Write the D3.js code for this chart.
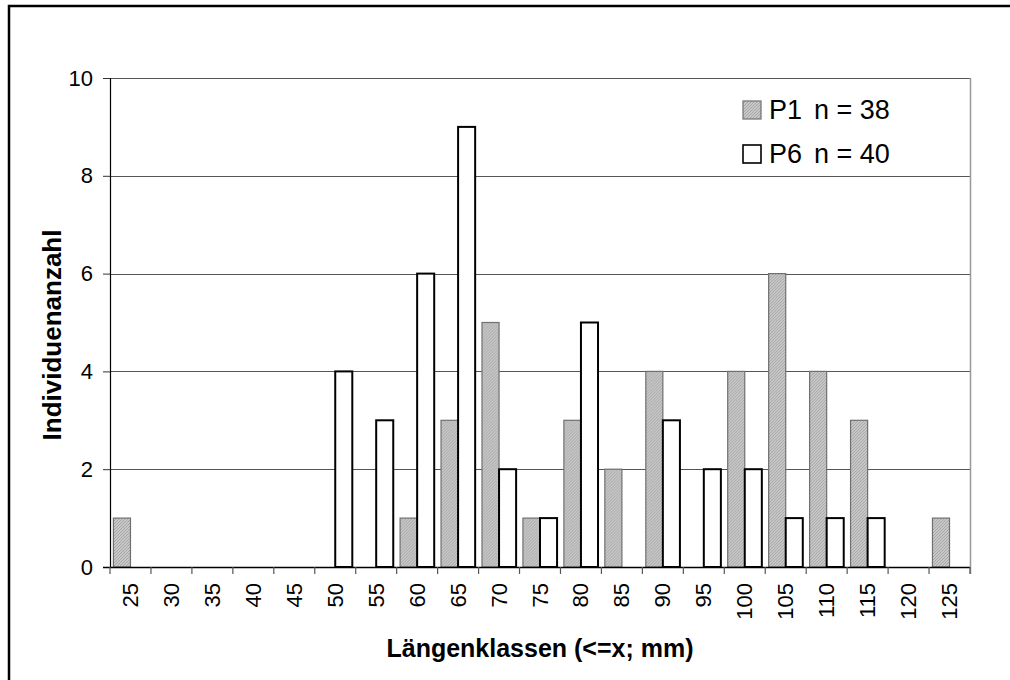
<!DOCTYPE html>
<html>
<head>
<meta charset="utf-8">
<script src="https://cdn.jsdelivr.net/npm/d3@7"></script>
<style>
  html, body { margin: 0; padding: 0; background: #fff; }
  svg { display: block; font-family: Arial, "Liberation Sans", sans-serif; }
</style>
</head>
<body>
<svg id="chart" width="1010" height="680"></svg>
<script>
// Length classes (upper bound, mm) and individual counts per site
const categories = ["25","30","35","40","45","50","55","60","65","70","75","80","85","90","95","100","105","110","115","120","125"];
const seriesKeys = ["P1", "P6"];
const seriesCounts = ["n = 38", "n = 40"];
const p1Values = [1,0,0,0,0,0,0,1,3,5,1,3,2,4,0,4,6,4,3,0,1];
const p6Values = [0,0,0,0,0,4,3,6,9,2,1,5,0,3,2,2,1,1,1,0,0];
const yTicks = [0, 2, 4, 6, 8, 10];

const svg = d3.select("#chart");
const W = 1010, H = 680;
const plot = { left: 110, right: 970, top: 78, bottom: 567 };

// hatched grey fill for the P1 bars
const defs = svg.append("defs");
const pat = defs.append("pattern")
  .attr("id", "hatch").attr("patternUnits", "userSpaceOnUse")
  .attr("width", 3).attr("height", 3);
pat.append("rect").attr("width", 3).attr("height", 3).attr("fill", "#c8c8c8");
pat.append("path").attr("d", "M0,3 L3,0 M-1,1 L1,-1 M2,4 L4,2")
  .attr("stroke", "#979797").attr("stroke-width", 0.7);

// outer frame
svg.append("rect").attr("x", 9).attr("y", 6).attr("width", W + 20).attr("height", H + 20)
  .attr("fill", "none").attr("stroke", "#000").attr("stroke-width", 2.5);

const x = d3.scaleBand().domain(categories).range([plot.left, plot.right]).padding(0);
const x1 = d3.scaleBand().domain(seriesKeys).range([0, x.bandwidth()]).paddingInner(0).paddingOuter(0.2);
const y = d3.scaleLinear().domain([0, 10]).range([plot.bottom, plot.top]);

// gridlines
svg.append("g").selectAll("line").data(yTicks.filter(d => d > 0)).join("line")
  .attr("x1", plot.left).attr("x2", plot.right)
  .attr("y1", d => Math.round(y(d)) + 0.5).attr("y2", d => Math.round(y(d)) + 0.5)
  .attr("stroke", "#555").attr("stroke-width", 1);

// right border of plot area
svg.append("line").attr("x1", plot.right + 0.5).attr("x2", plot.right + 0.5)
  .attr("y1", plot.top).attr("y2", plot.bottom + 7)
  .attr("stroke", "#999").attr("stroke-width", 1.5);

// bars
const rows = categories.map((c, i) => ({ cat: c, P1: p1Values[i], P6: p6Values[i] }));
const groups = svg.append("g").selectAll("g").data(rows).join("g")
  .attr("transform", d => `translate(${x(d.cat)},0)`);

groups.selectAll("rect")
  .data(d => seriesKeys.map(k => ({ key: k, value: d[k] })).filter(e => e.value > 0))
  .join("rect")
  .attr("x", d => x1(d.key))
  .attr("y", d => y(d.value))
  .attr("width", x1.bandwidth())
  .attr("height", d => y(0) - y(d.value))
  .attr("fill", d => d.key === "P1" ? "url(#hatch)" : "#fff")
  .attr("stroke", d => d.key === "P1" ? "#707070" : "#000")
  .attr("stroke-width", d => d.key === "P1" ? 1.2 : 2);

// y axis
const yAxis = svg.append("g").attr("transform", `translate(${plot.left},0)`)
  .call(d3.axisLeft(y).tickValues(yTicks).tickSize(7).tickPadding(10));
yAxis.select(".domain").attr("stroke", "#000").attr("stroke-width", 1.2);
yAxis.selectAll(".tick line").attr("stroke", "#333");
yAxis.selectAll("text").attr("font-size", 22).attr("fill", "#000");

// x axis with ticks on category boundaries
const xAxis = svg.append("g");
xAxis.append("line").attr("x1", plot.left - 7).attr("x2", plot.right)
  .attr("y1", plot.bottom + 0.5).attr("y2", plot.bottom + 0.5)
  .attr("stroke", "#000").attr("stroke-width", 1.5);
const bounds = categories.map(c => x(c)).concat([plot.right]);
xAxis.selectAll("line.tk").data(bounds).join("line").attr("class", "tk")
  .attr("x1", d => d).attr("x2", d => d)
  .attr("y1", plot.bottom).attr("y2", plot.bottom + 7)
  .attr("stroke", "#555").attr("stroke-width", 1.2);
xAxis.selectAll("text").data(categories).join("text")
  .attr("transform", d => `translate(${x(d) + x.bandwidth() / 2},583) rotate(-90)`)
  .attr("text-anchor", "end").attr("dominant-baseline", "central")
  .attr("font-size", 22).attr("fill", "#000")
  .text(d => d);

// axis titles
svg.append("text").attr("x", 540).attr("y", 657).attr("text-anchor", "middle")
  .attr("font-size", 25).attr("font-weight", "bold").text("Längenklassen (<=x; mm)");
svg.append("text").attr("transform", "translate(52,335) rotate(-90)")
  .attr("text-anchor", "middle").attr("dominant-baseline", "central")
  .attr("font-size", 26).attr("font-weight", "bold").text("Individuenanzahl");

// legend
const legend = svg.append("g").attr("transform", "translate(743,101)");
seriesKeys.forEach((k, i) => {
  const g = legend.append("g").attr("transform", `translate(0,${i * 44})`);
  g.append("rect").attr("width", 18).attr("height", 18)
    .attr("fill", k === "P1" ? "url(#hatch)" : "#fff")
    .attr("stroke", k === "P1" ? "#707070" : "#000").attr("stroke-width", k === "P1" ? 1.2 : 1.6);
  const t = g.append("text").attr("y", 18).attr("font-size", 27);
  t.append("tspan").attr("x", 26).text(k);
  t.append("tspan").attr("x", 71).text(seriesCounts[i]);
});
</script>
</body>
</html>
